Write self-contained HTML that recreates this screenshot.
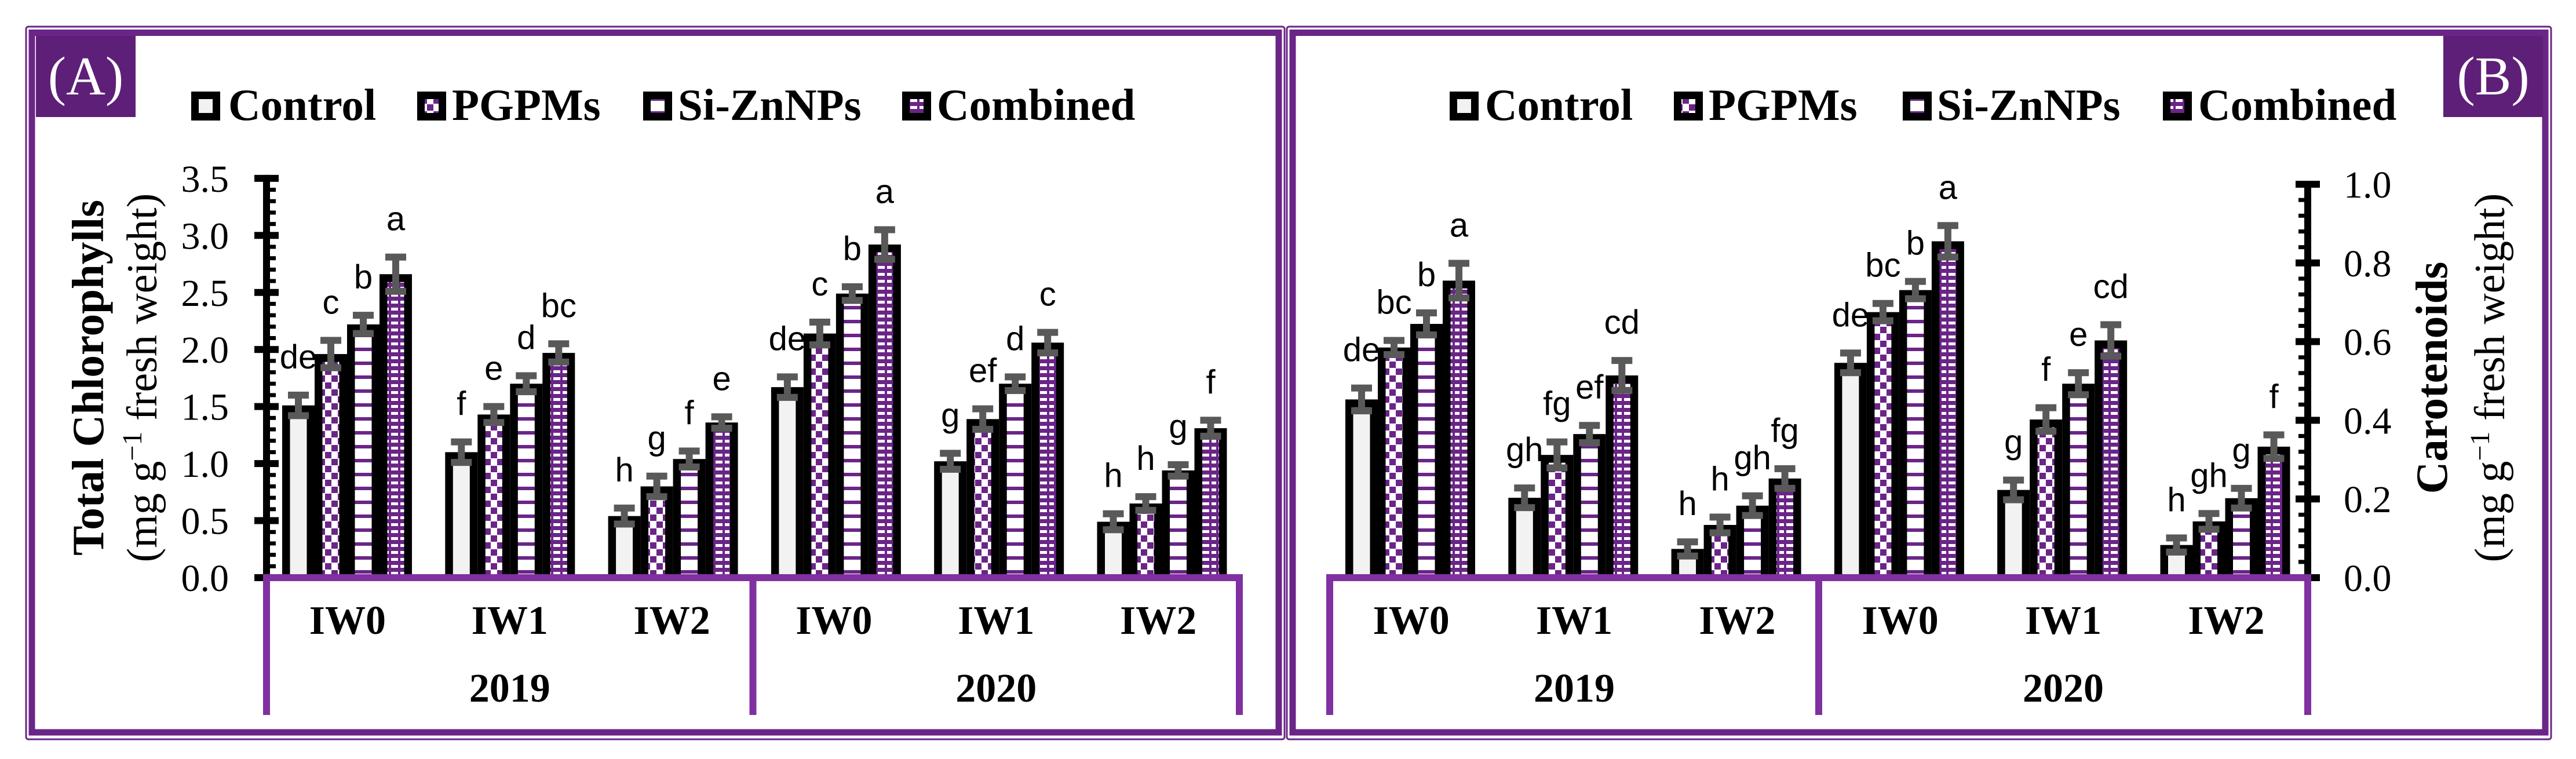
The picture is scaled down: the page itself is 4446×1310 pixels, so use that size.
<!DOCTYPE html>
<html><head><meta charset="utf-8"><style>html,body{margin:0;padding:0;background:#fff}svg{display:block}</style></head>
<body>
<svg id="chart" xmlns="http://www.w3.org/2000/svg" width="4446" height="1310" viewBox="0 0 4446 1310">
<defs>
<pattern id="pCtrl" patternUnits="userSpaceOnUse" width="10" height="10"><rect width="10" height="10" fill="#f2f2f2"/></pattern>
<pattern id="pPgpm" patternUnits="userSpaceOnUse" width="22" height="24"><rect width="22" height="24" fill="#fff"/><rect x="0" y="0" width="11" height="11" fill="#6a2587"/><rect x="11" y="12" width="11" height="11" fill="#6a2587"/></pattern>
<pattern id="pSi" patternUnits="userSpaceOnUse" width="24" height="24"><rect width="24" height="24" fill="#fff"/><rect x="0" y="0" width="24" height="6" fill="#6a2587"/></pattern>
<pattern id="pComb" patternUnits="userSpaceOnUse" width="28" height="12"><rect width="28" height="12" fill="#6a2587"/><rect x="3" y="3" width="12" height="5" fill="#fff"/><rect x="19" y="3" width="8" height="5" fill="#fff"/></pattern>
</defs>
<g id="root"></g>
</svg>
<script>
const categories = ['IW0','IW1','IW2','IW0','IW1','IW2'];
const years = ['2019','2020'];
const seriesNames = ['Control','PGPMs','Si-ZnNPs','Combined'];
// Panel A: Total chlorophylls
const chlControl = [1.51,1.10,0.54,1.67,1.02,0.49];
const chlPgpm    = [1.96,1.43,0.80,2.14,1.39,0.65];
const chlSi      = [2.22,1.70,1.04,2.49,1.70,0.94];
const chlComb    = [2.66,1.97,1.36,2.92,2.06,1.31];
const chlErrControl = [0.09,0.09,0.07,0.09,0.07,0.07];
const chlErrPgpm    = [0.12,0.07,0.09,0.10,0.09,0.06];
const chlErrSi      = [0.08,0.07,0.07,0.06,0.06,0.05];
const chlErrComb    = [0.15,0.08,0.05,0.13,0.09,0.07];
const chlLetControl = ['de','f','h','de','g','h'];
const chlLetPgpm    = ['c','e','g','c','ef','h'];
const chlLetSi      = ['b','d','f','b','d','g'];
const chlLetComb    = ['a','bc','e','a','c','f'];
const ticksA = [0,0.5,1.0,1.5,2.0,2.5,3.0,3.5];
// Panel B: Carotenoids
const carControl = [0.453,0.203,0.073,0.546,0.223,0.083];
const carPgpm    = [0.585,0.312,0.134,0.675,0.402,0.143];
const carSi      = [0.645,0.365,0.183,0.731,0.493,0.202];
const carComb    = [0.755,0.514,0.252,0.855,0.603,0.333];
const carErrControl = [0.029,0.025,0.018,0.025,0.025,0.018];
const carErrPgpm    = [0.018,0.033,0.020,0.022,0.030,0.020];
const carErrSi      = [0.028,0.022,0.025,0.022,0.028,0.025];
const carErrComb    = [0.044,0.038,0.025,0.040,0.040,0.030];
const carLetControl = ['de','gh','h','de','g','h'];
const carLetPgpm    = ['bc','fg','h','bc','f','gh'];
const carLetSi      = ['b','ef','gh','b','e','g'];
const carLetComb    = ['a','cd','fg','a','cd','f'];
const ticksB = [0,0.2,0.4,0.6,0.8,1.0];

const NS='http://www.w3.org/2000/svg';
const root=document.getElementById('root');
function mk(tag,attrs,parent){const e=document.createElementNS(NS,tag);for(const k in attrs)e.setAttribute(k,attrs[k]);(parent||root).appendChild(e);return e;}
const PANEL='#6a2587', CAT='#8030a0', BOX='#5e1f78', ERR='#595959';
const fills=['url(#pCtrl)','url(#pPgpm)','url(#pSi)','url(#pComb)'];
const Y0=997;
const yA=v=>Y0-v*196.9;
const yB=v=>Y0-v*679;

function panelFrame(x1,x2,name){
  const g=mk('g',{});
  
  
  mk('rect',{x:x1,y:46,width:x2-x1,height:1230,fill:'none',stroke:PANEL,'stroke-width':3,rx:4},g);
  mk('rect',{x:x1+10,y:56.5,width:x2-x1-20,height:1207.5,fill:'none',stroke:PANEL,'stroke-width':11},g);
}
panelFrame(45,2217,'panel-a-frame');
panelFrame(2221,4403,'panel-b-frame');

function labelBox(x,txt,name){
  const g=mk('g',{});
  
  
  mk('rect',{x:x,y:62,width:172,height:140,fill:BOX},g);
  const t=mk('text',{x:x+86,y:163,'text-anchor':'middle','font-family':'Liberation Serif, serif','font-size':94,fill:'#fff'},g);
  t.textContent=txt;
}
labelBox(62,'(A)','panel-a-label');
labelBox(4217,'(B)','panel-b-label');

function legend(sqX,txX,name){
  const g=mk('g',{});
  
  
  for(let i=0;i<4;i++){
    const it=mk('g',{},g);
    
    
    mk('rect',{x:sqX[i],y:158,width:50,height:50,fill:'#000'},it);
    mk('rect',{x:sqX[i]+13,y:171,width:24,height:24,fill:fills[i]},it);
    const t=mk('text',{x:txX[i],y:207,'font-family':'Liberation Serif, serif','font-weight':'bold','font-size':77,fill:'#000'},it);
    t.textContent=seriesNames[i];
  }
}
legend([330,720,1110,1557],[394,780,1170,1617],'legend-a');
legend([2502,2889,3284,3733],[2563,2949,3343,3794],'legend-b');

function categoryBox(left,right,name){
  const g=mk('g',{});
  
  
  const mid=(left+right)/2, w=(right-left)/6;
  mk('rect',{x:left-6,y:991,width:right-left+12,height:12,fill:CAT},g);
  [left,mid,right].forEach(x=>mk('rect',{x:x-6,y:991,width:12,height:243,fill:CAT},g));
  categories.forEach((c,i)=>{
    const t=mk('text',{x:left+w*(i+0.5),y:1094,'text-anchor':'middle','font-family':'Liberation Serif, serif','font-weight':'bold','font-size':70},g);
    
    
    t.textContent=c;
  });
  years.forEach((yv,i)=>{
    const t=mk('text',{x:left+w*(3*i+1.5),y:1211,'text-anchor':'middle','font-family':'Liberation Serif, serif','font-weight':'bold','font-size':70},g);
    
    
    t.textContent=yv;
  });
}

function drawBars(left,yf,vals,errs,lets,name){
  const g=mk('g',{});
  
  
  const w=(categories.length?281.3:0);
  for(let s=0;s<4;s++){
    for(let i=0;i<vals[s].length;i++){
      const x=left+27+i*w+s*56;
      const v=vals[s][i], e=errs[s][i];
      const top=yf(v);
      const b=mk('g',{},g);
      
      
      mk('rect',{x:x,y:top,width:56,height:Y0-top,fill:'#000'},b);
      mk('rect',{x:x+13.5,y:top+13.5,width:29,height:Math.max(0,Y0-top-13.5),fill:fills[s]},b);
      const cx=x+28, yh=yf(v+e), yl=yf(v-e);
      mk('rect',{x:cx-6,y:yh,width:12,height:yl-yh,fill:ERR},b);
      mk('rect',{x:cx-18,y:yh-6,width:36,height:12,fill:ERR},b);
      mk('rect',{x:cx-18,y:yl-6,width:36,height:12,fill:ERR},b);
      const t=mk('text',{x:cx,y:yh-6-40,'text-anchor':'middle','font-family':'Liberation Sans, sans-serif','font-size':58,fill:'#000'},b);
      t.textContent=lets[s][i];
    }
  }
}

function axis(ax,yf,ticks,max,minorStep,side,name,labelX,anchor){
  const g=mk('g',{});
  
  
  mk('rect',{x:ax-6,y:yf(max)-6,width:12,height:Y0-yf(max)+12,fill:'#000'},g);
  const n=Math.round(max/minorStep);
  for(let k=0;k<=n;k++){
    const y=yf(k*minorStep);
    mk('rect',{x:side>0?ax+6:ax-16,y:y-3.5,width:10,height:7,fill:'#000'},g);
  }
  ticks.forEach(tv=>{
    const y=yf(tv);
    mk('rect',{x:ax-21,y:y-6,width:42,height:12,fill:'#000'},g);
    const t=mk('text',{x:labelX,y:y+23,'text-anchor':anchor,'font-family':'Liberation Serif, serif','font-size':66,fill:'#000'},g);
    
    
    t.textContent=tv.toFixed(1);
  });
}

// Panel A
drawBars(460,yA,[chlControl,chlPgpm,chlSi,chlComb],[chlErrControl,chlErrPgpm,chlErrSi,chlErrComb],[chlLetControl,chlLetPgpm,chlLetSi,chlLetComb],'bars-chlorophyll');
axis(460,yA,ticksA,3.5,0.1,1,'y-axis-a',395,'end');
categoryBox(460,2139,'category-axis-a');
// Panel B
drawBars(2295,yB,[carControl,carPgpm,carSi,carComb],[carErrControl,carErrPgpm,carErrSi,carErrComb],[carLetControl,carLetPgpm,carLetSi,carLetComb],'bars-carotenoids');
axis(3983,yB,ticksB,1.0,0.04,-1,'y-axis-b',4045,'start');
categoryBox(2295,3983,'category-axis-b');

function yTitle(x1,x2,cy,main,name){
  const g=mk('g',{});
  
  
  const t1=mk('text',{x:0,y:0,transform:'translate('+x1+','+cy+') rotate(-90)','text-anchor':'middle','font-family':'Liberation Serif, serif','font-weight':'bold','font-size':77},g);
  t1.textContent=main;
  const t2=mk('text',{x:0,y:0,transform:'translate('+x2+','+cy+') rotate(-90)','text-anchor':'middle','font-family':'Liberation Serif, serif','font-size':74},g);
  const a=mk('tspan',{},t2); a.textContent='(mg g';
  const b=mk('tspan',{'baseline-shift':'super','font-size':48},t2); b.textContent='\u22121';
  const c=mk('tspan',{},t2); c.textContent=' fresh weight)';
}
yTitle(178,270,652,'Total Chlorophylls','y-axis-title-a');
yTitle(4223,4322,652,'Carotenoids','y-axis-title-b');
</script>
</body></html>
